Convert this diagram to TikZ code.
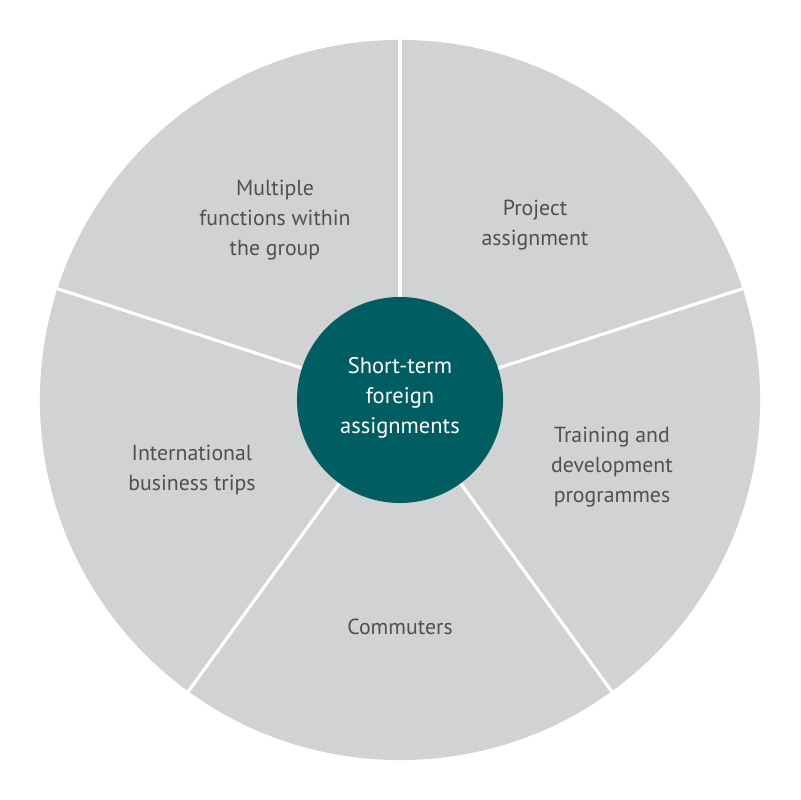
\documentclass[tikz,border=0pt]{standalone}
\usepackage{fontspec}
\setmainfont{PT Sans}
\definecolor{diskgray}{HTML}{D1D2D4}
\definecolor{hubteal}{HTML}{005E62}
\definecolor{labgray}{HTML}{4F5052}
\begin{document}
\begin{tikzpicture}[x=0.025cm,y=0.025cm,
  disk/.style={circle,fill=diskgray,minimum size=18cm,inner sep=0pt},
  hub/.style={circle,fill=hubteal,minimum size=5.15cm,inner sep=0pt},
  sep/.style={white,line width=2.2pt},
  lab/.style={align=center,text=labgray,font=\fontsize{15.5}{21.3}\selectfont},
  hublab/.style={align=center,text=white,font=\fontsize{16}{21.3}\selectfont}]
\useasboundingbox (0,0) rectangle (800,800);
\node[disk] (D) at (400,400) {};
\coordinate (C) at (400,400);
\draw[sep] (C) -- (D.90);
\draw[sep] (C) -- (D.18);
\draw[sep] (C) -- (D.-54);
\draw[sep] (C) -- (D.-126);
\draw[sep] (C) -- (D.162);
\node[hub] (H) at (400,400) {};
\node[hublab] (ht) at (400,402) {Short-term\\foreign\\assignments};
\node[lab] (l1) at (275,580) {Multiple\\functions within\\the group};
\node[lab] (l2) at (535,575) {Project\\assignment};
\node[lab] (l3) at (612,333) {Training and\\development\\programmes};
\node[lab] (l4) at (400,173) {Commuters};
\node[lab] (l5) at (192,330) {International\\business trips};
\end{tikzpicture}
\end{document}
